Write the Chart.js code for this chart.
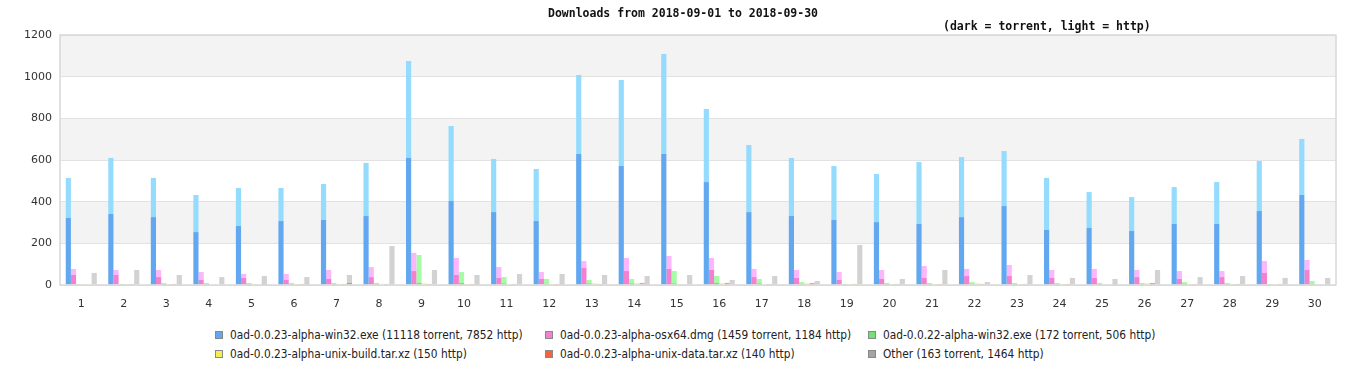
<!DOCTYPE html>
<html>
<head>
<meta charset="utf-8">
<script src="https://cdn.jsdelivr.net/npm/chart.js@4.4.0/dist/chart.umd.min.js"></script>
<style>
  body { margin: 0; background: #fff; }
  .wrap { position: relative; width: 1366px; height: 380px; }
  .title, .subtitle {
    position: absolute; font: bold 11.5px "DejaVu Sans Mono", monospace; color: #111; white-space: nowrap;
  }
  .title { left: 0; width: 1366px; text-align: center; top: 6px; }
  .subtitle { left: 943px; top: 19px; }
  .legend {
    position: absolute; left: 215px; top: 328px;
    display: grid; grid-template-columns: 330px 323px 330px; row-gap: 5px;
    font: 11.8px "DejaVu Sans Condensed", "DejaVu Sans", sans-serif; color: #222;
  }
  .legend div { display: flex; align-items: center; height: 14px; white-space: nowrap; }
  .legend span.box { width: 6px; height: 6px; border: 1px solid #888; margin-right: 7px; flex: none; }
</style>
</head>
<body>
<div class="wrap">
  <canvas id="downloadsChart" width="1366" height="315"></canvas>
  <div class="title">Downloads from 2018-09-01 to 2018-09-30</div>
  <div class="subtitle">(dark = torrent, light = http)</div>
  <div class="legend" id="legend"></div>
</div>
<script>
const days = ['1','2','3','4','5','6','7','8','9','10','11','12','13','14','15','16','17','18','19','20','21','22','23','24','25','26','27','28','29','30'];
const yTicks = [0, 200, 400, 600, 800, 1000, 1200];

const seriesNames = [
  '0ad-0.0.23-alpha-win32.exe (11118 torrent, 7852 http)',
  '0ad-0.0.23-alpha-osx64.dmg (1459 torrent, 1184 http)',
  '0ad-0.0.22-alpha-win32.exe (172 torrent, 506 http)',
  '0ad-0.0.23-alpha-unix-build.tar.xz (150 http)',
  '0ad-0.0.23-alpha-unix-data.tar.xz (140 http)',
  'Other (163 torrent, 1464 http)'
];

const win32Torrent = [322,341,326,254,283,307,312,331,610,403,350,307,629,571,629,494,350,331,312,302,293,326,379,264,274,259,293,293,355,432];
const win32Http    = [192,269,188,178,183,159,173,255,465,360,255,250,379,413,480,351,322,279,259,231,297,288,264,250,172,163,177,201,240,269];
const osxTorrent   = [48,48,38,24,34,24,29,38,67,48,34,29,82,67,77,72,38,34,24,29,34,43,43,34,34,38,29,38,58,72];
const osxHttp      = [29,24,34,38,19,29,43,48,87,82,52,33,33,63,62,58,39,38,38,43,57,34,53,38,43,34,38,29,57,48];
const win22Torrent = [2,5,5,5,5,5,5,5,10,10,8,5,8,8,8,10,8,5,2,5,5,6,6,5,5,5,6,6,2,6];
const win22Http    = [3,0,5,5,5,5,5,5,134,52,30,24,16,21,59,33,21,9,3,5,5,8,4,5,5,5,8,4,3,13];
const unixBuildHttp = [5,5,5,0,5,5,5,0,10,5,5,5,10,10,5,10,0,10,5,5,5,10,5,5,0,10,5,5,5,0];
const unixDataHttp  = [0,5,5,0,0,5,5,5,5,5,5,5,5,10,0,10,5,10,5,5,5,5,5,5,0,10,5,5,5,0];
const otherTorrent = [0,0,5,0,5,5,10,0,0,5,0,5,0,5,0,0,0,0,0,0,0,0,0,0,5,0,0,0,0,0];
const otherHttp    = [58,72,43,38,38,33,38,187,72,43,53,48,48,38,48,24,43,19,192,29,72,14,48,34,24,72,38,43,34,34];

const darkColors  = ['#62a8f1', '#f282d0', '#72e072', '#f0f050', '#f2643c', '#a4a4a4'];
const lightColors = ['#94dbfd', '#fcb6fc', '#a4fca4', '#f8f890', '#f8a080', '#d2d2d2'];

const torrentData = [win32Torrent, osxTorrent, win22Torrent, days.map(() => 0), days.map(() => 0), otherTorrent];
const httpData    = [win32Http, osxHttp, win22Http, unixBuildHttp, unixDataHttp, otherHttp];

const datasets = [];
seriesNames.forEach((name, i) => {
  datasets.push({ label: name, data: torrentData[i], backgroundColor: darkColors[i], stack: 's' + i });
  datasets.push({ label: name + ' http', data: httpData[i], backgroundColor: lightColors[i], stack: 's' + i });
});

// alternating horizontal bands behind the bars, plus the plot frame
const bandsPlugin = {
  id: 'bands',
  beforeDraw(chart) {
    const { ctx, chartArea: a, scales: { y } } = chart;
    ctx.save();
    ctx.fillStyle = '#fff';
    ctx.fillRect(0, 0, chart.width, chart.height);
    ctx.fillStyle = '#f3f3f3';
    for (let i = 1; i < yTicks.length - 1; i += 2) {
      const top = y.getPixelForValue(yTicks[i + 1]);
      const bottom = y.getPixelForValue(yTicks[i]);
      ctx.fillRect(a.left, top, a.right - a.left, bottom - top);
    }
    ctx.restore();
  },
  afterDraw(chart) {
    const { ctx, chartArea: a } = chart;
    ctx.save();
    ctx.strokeStyle = '#d8d8d8';
    ctx.lineWidth = 1.5;
    ctx.strokeRect(a.left, a.top, a.right - a.left, a.bottom - a.top);
    ctx.restore();
  }
};

new Chart(document.getElementById('downloadsChart').getContext('2d'), {
  type: 'bar',
  data: { labels: days, datasets: datasets },
  options: {
    responsive: false,
    animation: false,
    layout: { padding: { left: 0, right: 30, top: 35, bottom: 0 } },
    datasets: { bar: { categoryPercentage: 0.73, barPercentage: 1.0 } },
    plugins: { legend: { display: false }, tooltip: { enabled: false } },
    scales: {
      x: {
        stacked: true,
        grid: { display: false },
        border: { display: false },
        ticks: { color: '#333', font: { family: 'DejaVu Sans', size: 11 }, padding: 5, maxRotation: 0 },
        afterFit(s) { s.height = 30; }
      },
      y: {
        stacked: true,
        min: 0, max: 1200,
        afterBuildTicks(s) { s.ticks = yTicks.map(v => ({ value: v })); },
        grid: { color: '#e2e2e2', lineWidth: 1, drawTicks: false },
        border: { display: false },
        ticks: { color: '#333', font: { family: 'DejaVu Sans', size: 11 }, padding: 8, callback: v => String(v) },
        afterFit(s) { s.width = 60; }
      }
    }
  },
  plugins: [bandsPlugin]
});

const legendEl = document.getElementById('legend');
seriesNames.forEach((name, i) => {
  const item = document.createElement('div');
  const box = document.createElement('span');
  box.className = 'box';
  box.style.background = darkColors[i];
  item.appendChild(box);
  item.appendChild(document.createTextNode(name));
  legendEl.appendChild(item);
});
</script>
</body>
</html>
